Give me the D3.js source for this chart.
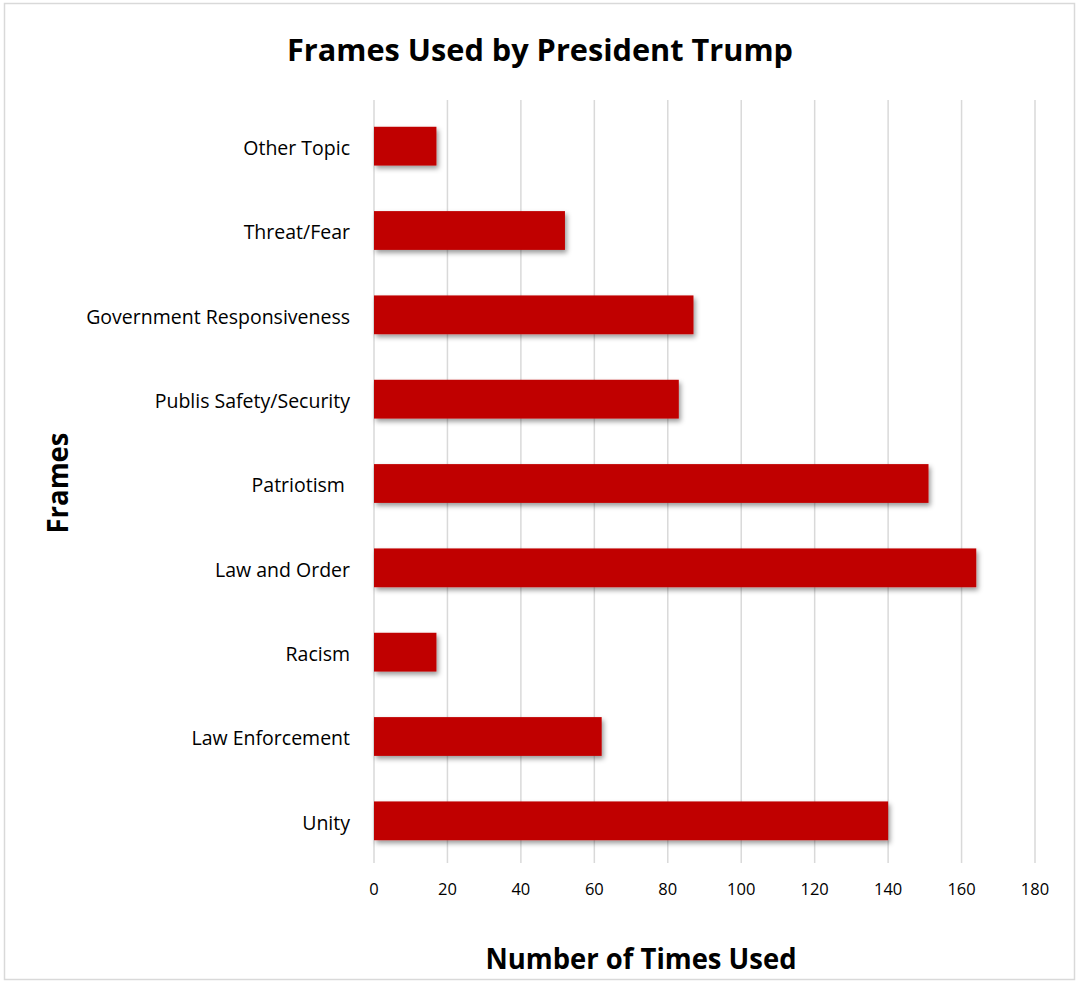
<!DOCTYPE html>
<html><head><meta charset="utf-8">
<script src="https://cdn.jsdelivr.net/npm/d3@7"></script>
<style>
html,body{margin:0;padding:0;background:#fff;}
svg text{font-family:"Open Sans",sans-serif;white-space:pre;}
</style></head>
<body><svg id="c" width="1079" height="984"></svg>
<script>
const categories = ["Other Topic","Threat/Fear","Government Responsiveness","Publis Safety/Security","Patriotism ","Law and Order","Racism","Law Enforcement","Unity"];
const values = [17,52,87,83,151,164,17,62,140];
const xTicks = [0,20,40,60,80,100,120,140,160,180];
const title = "Frames Used by President Trump";
const xTitle = "Number of Times Used";
const yTitle = "Frames";

const svg = d3.select("#c");
const defs = svg.append("defs");
const f = defs.append("filter").attr("id","sh").attr("x","-10%").attr("y","-30%").attr("width","130%").attr("height","180%");
f.append("feDropShadow").attr("dx",2).attr("dy",3).attr("stdDeviation",2.5).attr("flood-color","#000").attr("flood-opacity",0.4);

svg.append("rect").attr("x",4.5).attr("y",3.5).attr("width",1070).attr("height",976)
  .attr("fill","#fff").attr("stroke","#d9d9d9").attr("stroke-width",1.5);

const x = d3.scaleLinear().domain([0,180]).range([374,1035]);
const y = d3.scaleBand().domain(categories).range([104,863]).paddingInner(0.54).paddingOuter(0.27);

svg.append("g").selectAll("line").data(xTicks).join("line")
  .attr("x1",d=>x(d)).attr("x2",d=>x(d)).attr("y1",100).attr("y2",863)
  .attr("stroke","#d9d9d9").attr("stroke-width",1.5);

svg.append("g").selectAll("rect").data(values).join("rect")
  .attr("x",x(0)).attr("y",(d,i)=>y(categories[i]))
  .attr("width",d=>x(d)-x(0)).attr("height",y.bandwidth())
  .attr("fill","#C00000").attr("filter","url(#sh)");

svg.append("g").selectAll("text").data(xTicks).join("text")
  .attr("x",d=>x(d)).attr("y",895).attr("text-anchor","middle")
  .attr("font-size",16.5).attr("fill","#000").text(d=>d);

svg.append("g").selectAll("text").data(categories).join("text")
  .attr("x",350).attr("y",d=>y(d)+y.bandwidth()/2+2).attr("dy","0.35em")
  .attr("text-anchor","end").attr("font-size",19.5).attr("fill","#000").text(d=>d);

svg.append("text").attr("x",540).attr("y",61).attr("text-anchor","middle")
  .attr("font-size",31).attr("font-weight","bold").attr("textLength",506).attr("lengthAdjust","spacingAndGlyphs").text(title);

svg.append("text").attr("x",641).attr("y",969).attr("text-anchor","middle")
  .attr("font-size",29).attr("font-weight","bold").attr("textLength",311).attr("lengthAdjust","spacingAndGlyphs").text(xTitle);

svg.append("text").attr("transform","translate(68,483) rotate(-90)").attr("text-anchor","middle")
  .attr("font-size",29).attr("font-weight","bold").attr("textLength",101).attr("lengthAdjust","spacingAndGlyphs").text(yTitle);
</script></body></html>
